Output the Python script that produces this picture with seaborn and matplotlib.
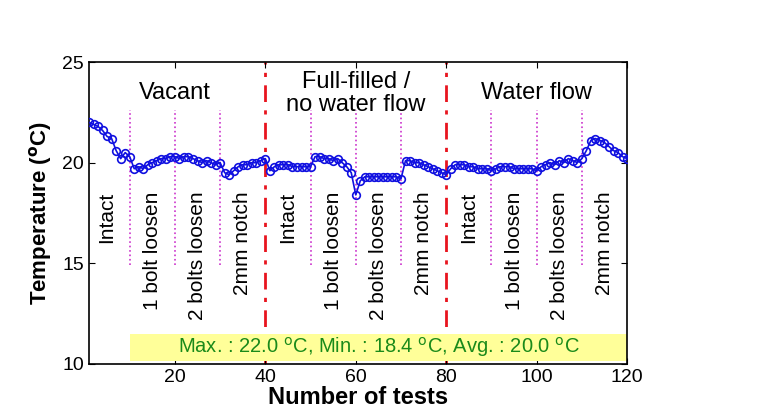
import numpy as np
import pandas as pd
import matplotlib
matplotlib.use("Agg")
import matplotlib.pyplot as plt
import seaborn as sns

# temperature per test
vacant = [22.0, 21.9, 21.8, 21.6, 21.3, 21.2, 20.6, 20.2, 20.5, 20.3,
          19.7, 19.8, 19.7, 19.9, 20.0, 20.1, 20.2, 20.2, 20.3, 20.3,
          20.2, 20.3, 20.3, 20.2, 20.1, 20.0, 20.1, 20.0, 19.9, 20.0,
          19.5, 19.4, 19.6, 19.8, 19.9, 19.9, 20.0, 20.0, 20.1, 20.2]
filled = [19.6, 19.8, 19.9, 19.9, 19.9, 19.8, 19.8, 19.8, 19.8, 19.8,
          20.3, 20.3, 20.2, 20.2, 20.1, 20.2, 20.0, 19.8, 19.5, 18.4,
          19.1, 19.3, 19.3, 19.3, 19.3, 19.3, 19.3, 19.3, 19.3, 19.2,
          20.1, 20.1, 20.0, 20.0, 19.9, 19.8, 19.7, 19.6, 19.5, 19.4]
waterflow = [19.7, 19.9, 19.9, 19.9, 19.8, 19.8, 19.7, 19.7, 19.7, 19.6,
             19.7, 19.8, 19.8, 19.8, 19.7, 19.7, 19.7, 19.7, 19.7, 19.6,
             19.8, 19.9, 20.0, 19.9, 20.1, 20.0, 20.2, 20.1, 20.0, 20.2,
             20.6, 21.1, 21.2, 21.1, 21.0, 20.8, 20.6, 20.5, 20.3, 20.2]

conditions = ["Vacant", "Full-filled /\nno water flow", "Water flow"]
damages = ["Intact", "1 bolt loosen", "2 bolts loosen", "2mm notch"]
condition_bounds = [40, 80]
damage_bounds = [10, 20, 30, 50, 60, 70, 90, 100, 110]

temps = vacant + filled + waterflow
df = pd.DataFrame({"test": np.arange(1, len(temps) + 1), "temp": temps})

plt.rcParams["font.family"] = ["Liberation Sans", "DejaVu Sans"]

fig = plt.figure(figsize=(7.78, 4.15), dpi=100)
ax = fig.add_axes([0.1144, 0.1229, 0.6916, 0.7277])

for b in damage_bounds:
    ax.plot([b, b], [14.9, 22.6], color="#cc33cc", ls=":", lw=1.2, zorder=1)
for b in condition_bounds:
    ax.axvline(b, color="#e8141e", ls=(0, (6, 3, 1.5, 3)), lw=2, zorder=1)

sns.lineplot(data=df, x="test", y="temp", ax=ax, color="#1010e0", lw=1.2,
             marker="o", markersize=5.5, markerfacecolor="none",
             markeredgecolor="#1010e0", markeredgewidth=1.2, zorder=3)

# damage labels (rotated, top aligned)
for c in range(3):
    for d, name in enumerate(damages):
        xc = c * 40 + d * 10 + 5
        ax.text(xc, 18.55, name, rotation=90, ha="center", va="top",
                fontsize=15)

for c, name in enumerate(conditions):
    ax.text(c * 40 + 20, 23.45, name, ha="center", va="center", fontsize=17,
            linespacing=1.05)

ax.add_patch(plt.Rectangle((10, 10.15), 110, 1.35, color="#ffff99", zorder=2,
                           lw=0))
mx, mn, av = max(temps), min(temps), np.mean(temps)
ax.text(65, 10.85,
        "Max. : %.1f $^{\\mathrm{o}}$C, Min. : %.1f $^{\\mathrm{o}}$C, Avg. : %.1f $^{\\mathrm{o}}$C" % (mx, mn, av),
        ha="center", va="center", fontsize=14.5, color="#1a8a1a", zorder=4)

ax.set_xlim(1, 120)
ax.set_ylim(10, 25)
ax.set_xticks([20, 40, 60, 80, 100, 120])
ax.set_yticks([10, 15, 20, 25])
ax.tick_params(direction="in", top=True, right=True, labelsize=14, length=4)
ax.set_xlabel("Number of tests", fontsize=17, fontweight="bold", labelpad=0)
ax.set_ylabel("Temperature ($^{\\mathbf{o}}$C)", fontsize=16, fontweight="bold",
              labelpad=6)
for s in ax.spines.values():
    s.set_linewidth(1.2)

fig.savefig("out.png", dpi=100)
